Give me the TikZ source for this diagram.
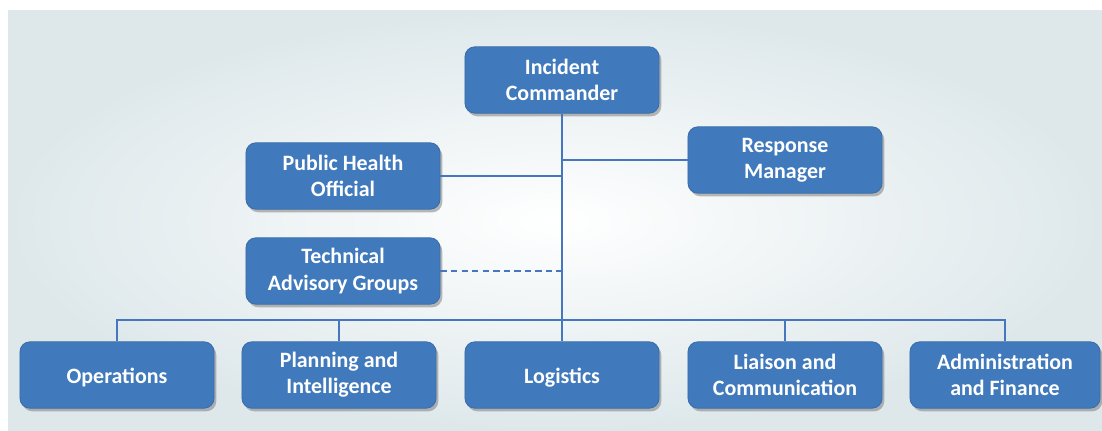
\documentclass[tikz,border=0pt]{standalone}
\usepackage{fontspec}
\setmainfont{Carlito}
\usetikzlibrary{shadows}
\definecolor{boxblue}{RGB}{64,122,188}
\definecolor{boxedge}{RGB}{56,108,170}
\definecolor{linkblue}{RGB}{70,118,190}
\definecolor{bgedge}{RGB}{222,232,235}
\begin{document}
\begin{tikzpicture}[x=0.025cm,y=-0.025cm,
  unit/.style={draw=boxedge, line width=0.6pt, fill=boxblue, rounded corners=0.25cm,
    minimum width=4.85cm, minimum height=1.66cm, align=center, text=white,
    font=\fontsize{15.6}{18.6}\selectfont\bfseries,
    execute at begin node={\rule{0pt}{15pt}},
    drop shadow={opacity=0.55, shadow xshift=1.6pt, shadow yshift=-2.2pt}},
  unittwo/.style={unit, execute at begin node={\rule{0pt}{14.5pt}}},
  conn/.style={draw=linkblue, line width=2pt},
  dashconn/.style={draw=linkblue, line width=2pt, dash pattern=on 4.5pt off 3pt}]
\useasboundingbox (0,0) rectangle (1102,431);
\fill[white] (0,0) rectangle (1102,431);
\shade[inner color=white, outer color=bgedge] (8,11) rectangle (1102,430);

\node[unittwo] (ic)  at (562,80)  {Incident\\Commander};
\node[unittwo] (pho) at (343,176) {Public Health\\Official};
\node[unittwo] (rm)  at (785,160) {Response\\Manager};
\node[unittwo] (tag) at (343,271) {Technical\\Advisory Groups};

\node[unit] (ops)  at (117,375)  {Operations};
\node[unittwo] (plan) at (339,375)  {Planning and\\Intelligence};
\node[unit] (log)  at (562,375)  {Logistics};
\node[unittwo] (lia)  at (785,375)  {Liaison and\\Communication};
\node[unittwo, minimum width=4.75cm] (adm)  at (1005,375) {Administration\\and Finance};

\coordinate (bus) at (562,320);

\draw[conn] (ic.south) -- (log.north);
\draw[conn] (pho.east) -- (pho.east -| ic.south);
\draw[conn] (rm.west) -- (rm.west -| ic.south);
\draw[dashconn] (tag.east) -- (tag.east -| ic.south);
\draw[conn] (ops.north) -- (ops.north |- bus) -- (adm.north |- bus) -- (adm.north);
\draw[conn] (plan.north) -- (plan.north |- bus);
\draw[conn] (lia.north) -- (lia.north |- bus);
\end{tikzpicture}
\end{document}
